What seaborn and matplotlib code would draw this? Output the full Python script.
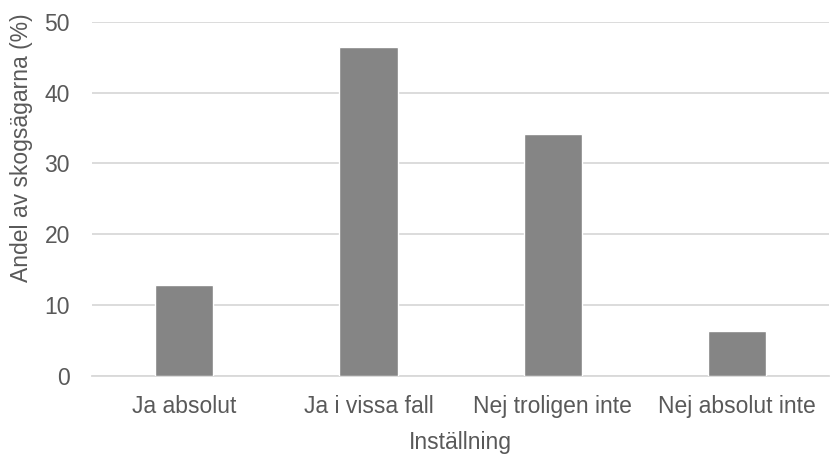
import pandas as pd
import seaborn as sns
import matplotlib.pyplot as plt

# === Data ===
kategorier = ["Ja absolut", "Ja i vissa fall", "Nej troligen inte", "Nej absolut inte"]
andel = [12.9, 46.4, 34.1, 6.4]
y_ticks = [0, 10, 20, 30, 40, 50]

df = pd.DataFrame({"Inställning": kategorier, "Andel": andel})

sns.set_theme(style="white")
plt.rcParams['font.family'] = ['Liberation Sans', 'DejaVu Sans']

fig = plt.figure(figsize=(8.3, 4.54), dpi=100)
ax = fig.add_axes([0.111, 0.172, 0.888, 0.78])

sns.barplot(data=df, x="Inställning", y="Andel", color="#858585", saturation=1,
            width=0.315, ax=ax, zorder=3)

ax.set_ylim(0, 50)
ax.set_yticks(y_ticks)
ax.yaxis.grid(True, color="#d9d9d9", linewidth=1.3, zorder=0)
ax.set_axisbelow(True)
for s in ["top", "right", "left"]:
    ax.spines[s].set_visible(False)
ax.spines["bottom"].set_color("#d9d9d9")
ax.spines["bottom"].set_linewidth(1.3)
ax.tick_params(axis="both", length=0, labelsize=16.5, colors="#595959")
ax.tick_params(axis="y", pad=16)
ax.tick_params(axis="x", pad=14)
ax.set_xlabel("Inställning", fontsize=16.5, color="#595959", labelpad=9)
ax.set_ylabel("Andel av skogsägarna (%)", fontsize=16.5, color="#595959")
# etiketten sitter lite högre än mitten i originalet
ax.yaxis.set_label_coords(-0.08, 0.644)

fig.savefig("out.png", dpi=100)
